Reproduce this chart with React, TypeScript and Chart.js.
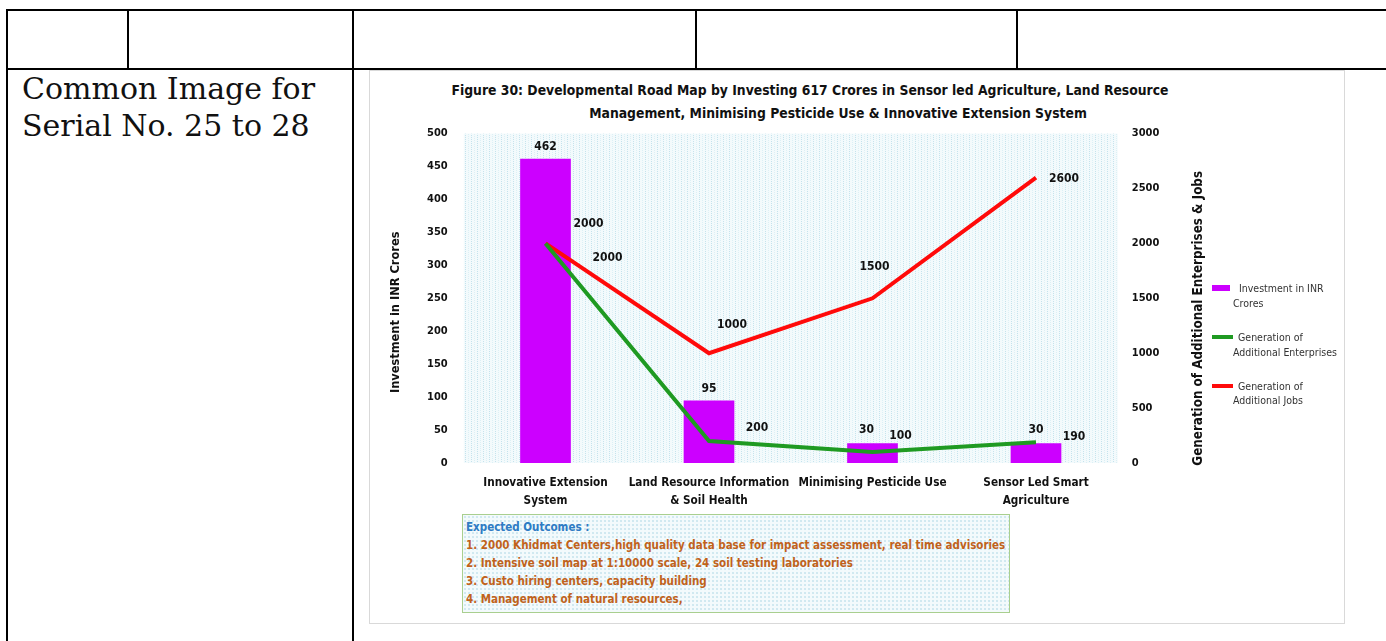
import React, { useEffect, useRef } from "react";
import { Chart, registerables } from "chart.js";

Chart.register(...registerables);

// ---------- data ----------
const categories: string[][] = [
  ["Innovative Extension", "System"],
  ["Land Resource Information", "& Soil Health"],
  ["Minimising Pesticide Use"],
  ["Sensor Led Smart", "Agriculture"],
];
const investment = [462, 95, 30, 30];
const enterprises = [2000, 200, 100, 190];
const jobs = [2000, 1000, 1500, 2600];
const seriesNames = [
  "Investment in INR Crores",
  "Generation of Additional Enterprises",
  "Generation of Additional Jobs",
];
const legendLines = [
  ["Investment in INR", "Crores"],
  ["Generation of", "Additional Enterprises"],
  ["Generation of", "Additional Jobs"],
];
const leftAxisTitle = "Investment in INR Crores";
const rightAxisTitle = "Generation of Additional Enterprises & Jobs";
const leftMax = 500;
const leftStep = 50;
const rightMax = 3000;
const rightStep = 500;
const titleLines = [
  "Figure 30: Developmental Road Map by Investing 617 Crores in Sensor led Agriculture, Land Resource",
  "Management, Minimising Pesticide Use & Innovative Extension System",
];
const outcomesHeading = "Expected Outcomes :";
const outcomes = [
  "1. 2000 Khidmat Centers,high quality data base for impact assessment, real time advisories",
  "2. Intensive soil map at 1:10000 scale, 24 soil testing laboratories",
  "3. Custo hiring centers, capacity building",
  "4. Management of natural resources,",
];
const cellText = ["Common Image for", "Serial No. 25 to 28"];

// ---------- styles ----------
const FONT = '"DejaVu Sans Condensed", "DejaVu Sans", sans-serif';
const COLORS = ["#cc00ff", "#1f9a22", "#ff0a0a"];
// label offsets (px) from each mark's anchor: [dx, dy]
const labelOffsets: number[][][] = [
  [[0, -12], [0, -12], [-6, -13], [0, -13]],
  [[62, 14], [48, -13], [28, -16], [38, -5]],
  [[43, -20], [23, -28], [2, -31], [28, 1]],
];

const CANVAS_LEFT = 369;
const CANVAS_TOP = 111;
const CANVAS_W = 976;
const CANVAS_H = 404;

function makePattern(): CanvasPattern | string {
  const c = document.createElement("canvas");
  c.width = 6;
  c.height = 4;
  const g = c.getContext("2d");
  if (!g) return "#eef8fb";
  g.fillStyle = "#f3fafc";
  g.fillRect(0, 0, 6, 4);
  g.fillStyle = "#c4e3ed";
  g.fillRect(0, 0, 1, 1);
  g.fillRect(0, 2, 1, 1);
  g.fillStyle = "#dcf0f5";
  g.fillRect(3, 1, 1, 1);
  g.fillRect(3, 3, 1, 1);
  const p = g.createPattern(c, "repeat");
  return p || "#eef8fb";
}

export default function App() {
  const ref = useRef<HTMLCanvasElement | null>(null);

  useEffect(() => {
    if (!ref.current) return;
    const pattern = makePattern();

    const bgPlugin = {
      id: "plotBg",
      beforeDatasetsDraw(chart: any) {
        const { ctx, chartArea } = chart;
        ctx.save();
        ctx.fillStyle = pattern;
        ctx.fillRect(chartArea.left, chartArea.top, chartArea.right - chartArea.left, chartArea.bottom - chartArea.top);
        ctx.restore();
      },
    };

    const labelPlugin = {
      id: "valueLabels",
      afterDatasetsDraw(chart: any) {
        const ctx = chart.ctx;
        ctx.save();
        ctx.font = `bold 12px ${FONT}`;
        ctx.fillStyle = "#111";
        ctx.textAlign = "center";
        ctx.textBaseline = "middle";
        chart.data.datasets.forEach((ds: any, di: number) => {
          const meta = chart.getDatasetMeta(di);
          meta.data.forEach((el: any, i: number) => {
            const off = labelOffsets[di][i];
            ctx.fillText(String(ds.data[i]), el.x + off[0], el.y + off[1]);
          });
        });
        ctx.restore();
      },
    };

    const axisTitlePlugin = {
      id: "axisTitles",
      afterDraw(chart: any) {
        const { ctx, chartArea, scales } = chart;
        const midY = (chartArea.top + chartArea.bottom) / 2;
        ctx.save();
        ctx.fillStyle = "#111";
        ctx.textAlign = "center";
        ctx.textBaseline = "middle";
        // left
        ctx.save();
        ctx.font = `bold 12.7px ${FONT}`;
        ctx.translate(scales.y.left + 27, midY + 14);
        ctx.rotate(-Math.PI / 2);
        ctx.fillText(leftAxisTitle, 0, 0);
        ctx.restore();
        // right
        ctx.save();
        ctx.font = `bold 13.3px ${FONT}`;
        ctx.translate(scales.y1.right - 8.75, midY + 20);
        ctx.rotate(-Math.PI / 2);
        ctx.fillText(rightAxisTitle, 0, 0);
        ctx.restore();
        ctx.restore();
      },
    };

    const chart = new Chart(ref.current, {
      type: "bar",
      data: {
        labels: categories,
        datasets: [
          {
            type: "bar",
            label: seriesNames[0],
            data: investment,
            backgroundColor: COLORS[0],
            yAxisID: "y",
            categoryPercentage: 1,
            barPercentage: 0.31,
            order: 3,
          },
          {
            type: "line",
            label: seriesNames[1],
            data: enterprises,
            borderColor: COLORS[1],
            backgroundColor: COLORS[1],
            borderWidth: 4,
            pointRadius: 0,
            tension: 0,
            yAxisID: "y1",
            order: 1,
          },
          {
            type: "line",
            label: seriesNames[2],
            data: jobs,
            borderColor: COLORS[2],
            backgroundColor: COLORS[2],
            borderWidth: 4,
            pointRadius: 0,
            tension: 0,
            yAxisID: "y1",
            order: 2,
          },
        ],
      } as any,
      options: {
        responsive: false,
        animation: false,
        devicePixelRatio: 1,
        layout: { padding: { top: 8, left: 0, right: 137.25, bottom: 0 } },
        plugins: {
          legend: { display: false },
          title: { display: false },
          tooltip: { enabled: false },
        },
        scales: {
          x: {
            offset: true,
            grid: { display: false, drawTicks: false },
            border: { display: false },
            ticks: {
              color: "#111",
              padding: 11,
              maxRotation: 0,
              autoSkip: false,
              font: { family: FONT, size: 11.7, weight: "bold", lineHeight: 1.55 },
            },
            afterFit: (s: any) => {
              s.height = 52;
            },
          },
          y: {
            position: "left",
            min: 0,
            max: leftMax,
            grid: { display: false, drawTicks: false },
            border: { display: false },
            ticks: {
              stepSize: leftStep,
              color: "#111",
              padding: 16,
              font: { family: FONT, size: 11, weight: "bold" },
            },
            afterFit: (s: any) => {
              s.width = 94.75;
            },
          },
          y1: {
            position: "right",
            min: 0,
            max: rightMax,
            grid: { display: false, drawTicks: false },
            border: { display: false },
            ticks: {
              stepSize: rightStep,
              color: "#111",
              padding: 14,
              font: { family: FONT, size: 11, weight: "bold" },
              callback: (v: any) => String(v),
            },
            afterFit: (s: any) => {
              s.width = 90;
            },
          },
        },
      } as any,
      plugins: [bgPlugin, labelPlugin, axisTitlePlugin],
    });
    return () => chart.destroy();
  }, []);

  const line = (x: number, y: number, w: number, h: number, key: string) => (
    <div key={key} style={{ position: "absolute", left: x, top: y, width: w, height: h, background: "#000" }} />
  );

  const legendY = [288, 337, 386];
  const legendSub = [303, 352, 400];

  return (
    <div
      style={{
        position: "fixed",
        left: 0,
        top: 0,
        width: 1386,
        height: 641,
        background: "#fff",
        overflow: "hidden",
      }}
    >
      {/* table grid */}
      {line(6, 9, 1380, 2, "h1")}
      {line(6, 68, 1380, 2, "h2")}
      {line(6, 9, 2, 632, "v0")}
      {line(127, 9, 2, 60, "v1")}
      {line(352, 9, 2, 632, "v2")}
      {line(695, 9, 2, 60, "v3")}
      {line(1016, 9, 2, 60, "v4")}

      {/* left cell text */}
      <div
        style={{
          position: "absolute",
          left: 22,
          top: 70,
          fontFamily: '"DejaVu Serif", serif',
          fontSize: 30,
          lineHeight: "37px",
          color: "#111",
          whiteSpace: "nowrap",
        }}
      >
        {cellText.map((t, i) => (
          <div key={i}>{t}</div>
        ))}
      </div>

      {/* chart frame */}
      <div
        style={{
          position: "absolute",
          left: 369,
          top: 70,
          width: 976,
          height: 554,
          border: "1px solid #d9d9d9",
          boxSizing: "border-box",
          background: "#fff",
        }}
      />

      {/* title */}
      {titleLines.map((t, i) => {
        const cx = i === 0 ? 810 : 838;
        const cy = i === 0 ? 90 : 113;
        return (
          <div
            key={i}
            style={{
              position: "absolute",
              left: cx - 500,
              width: 1000,
              top: cy - 9,
              height: 18,
              lineHeight: "18px",
              textAlign: "center",
              fontFamily: FONT,
              fontWeight: "bold",
              fontSize: 13.8,
              color: "#111",
              whiteSpace: "nowrap",
            }}
          >
            {t}
          </div>
        );
      })}

      <canvas
        ref={ref}
        width={CANVAS_W}
        height={CANVAS_H}
        style={{ position: "absolute", left: CANVAS_LEFT, top: CANVAS_TOP, width: CANVAS_W, height: CANVAS_H }}
      />

      {/* legend */}
      {legendLines.map((ls, i) => (
        <React.Fragment key={i}>
          <div
            style={{
              position: "absolute",
              left: 1212,
              top: i === 0 ? legendY[i] - 3 : legendY[i] - 2,
              width: i === 0 ? 18 : 21,
              height: i === 0 ? 6 : 4,
              background: COLORS[i],
            }}
          />
          <div
            style={{
              position: "absolute",
              left: i === 0 ? 1239 : 1238,
              top: legendY[i] - 7,
              fontFamily: FONT,
              fontSize: 10.5,
              lineHeight: "14px",
              color: "#333",
              whiteSpace: "nowrap",
            }}
          >
            {ls[0]}
          </div>
          <div
            style={{
              position: "absolute",
              left: 1233,
              top: legendSub[i] - 7,
              fontFamily: FONT,
              fontSize: 10.5,
              lineHeight: "14px",
              color: "#333",
              whiteSpace: "nowrap",
            }}
          >
            {ls[1]}
          </div>
        </React.Fragment>
      ))}

      {/* expected outcomes box */}
      <div
        style={{
          position: "absolute",
          left: 462,
          top: 514,
          width: 548,
          height: 99,
          border: "1px solid #a9cf8f",
          boxSizing: "border-box",
          backgroundColor: "#f3fafc",
          backgroundImage: "radial-gradient(#cfe8f0 0.7px, transparent 0.9px)",
          backgroundSize: "4px 4px",
          paddingLeft: 3,
          paddingTop: 3,
          fontFamily: FONT,
          fontWeight: "bold",
          fontSize: 11.5,
          lineHeight: "18px",
          whiteSpace: "nowrap",
          overflow: "visible",
        }}
      >
        <div style={{ color: "#2e7bc4" }}>{outcomesHeading}</div>
        {outcomes.map((t, i) => (
          <div key={i} style={{ color: "#c0621b" }}>
            {t}
          </div>
        ))}
      </div>
    </div>
  );
}
